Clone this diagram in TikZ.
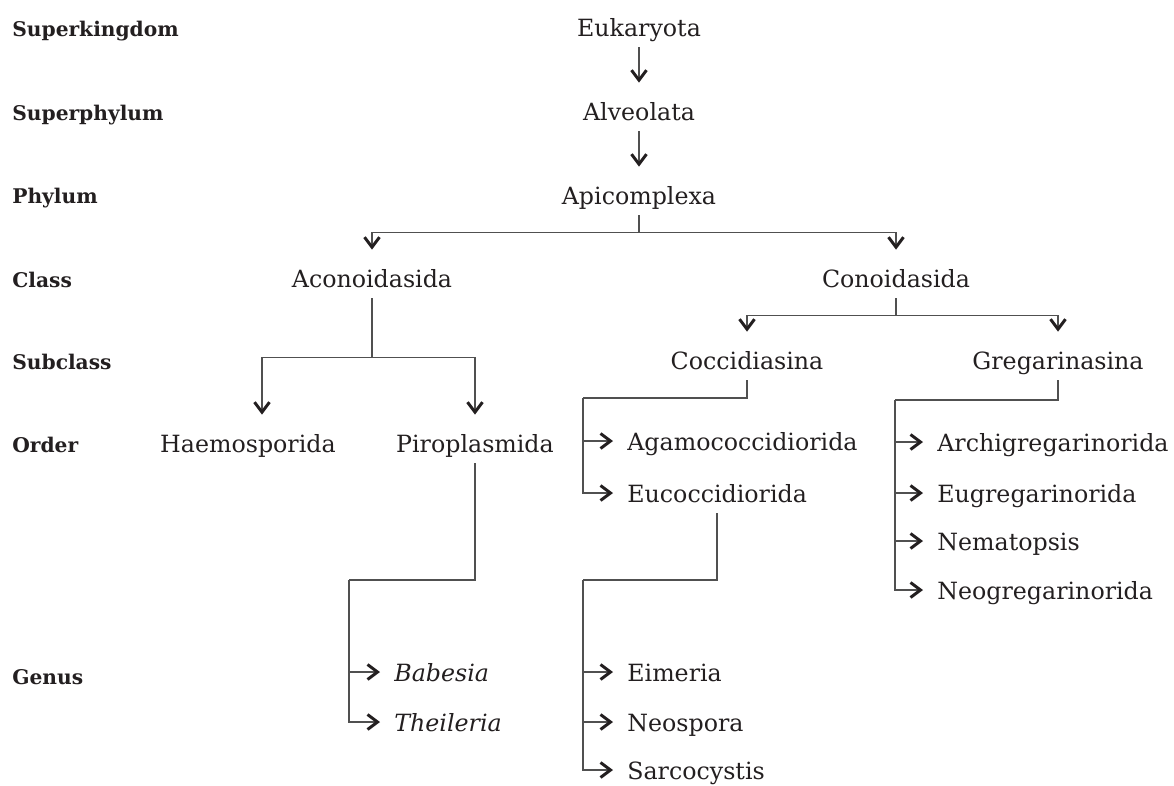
\documentclass[tikz,border=0pt]{standalone}
\usepackage{fontspec}
\setmainfont{DejaVu Serif}
\usetikzlibrary{arrows.meta}
\definecolor{ink}{HTML}{231F20}
\definecolor{wire}{HTML}{505050}

\begin{document}
\begin{tikzpicture}[x=0.02cm, y=-0.02cm,
    >={Straight Barb[length=2mm, width=3mm, line width=1.7pt, color=ink]},
    every node/.style={text=ink, font=\fontsize{13.5}{16}\selectfont},
    rank/.style={anchor=west, inner xsep=0pt, text height=0.36cm, text depth=0pt,
        font=\fontsize{11.5}{14}\selectfont\bfseries},
    taxon/.style={inner xsep=0.28cm, inner ysep=0.22cm, text height=0.36cm, text depth=0pt},
    leaf/.style={taxon, anchor=west},
    link/.style={draw=wire, line width=0.9pt},
    drop/.style={link, ->, shorten >=0.16cm}]

    \useasboundingbox (0,0) rectangle (1174,785);

    % ranks
    \node[rank] (rsk) at (12,27)  {Superkingdom};
    \node[rank] (rsp) at (12,111) {Superphylum};
    \node[rank] (rph) at (12,194) {Phylum};
    \node[rank] (rcl) at (12,278) {Class};
    \node[rank] (rsc) at (12,360) {Subclass};
    \node[rank] (ror) at (12,443) {Order};
    \node[rank] (rge) at (12,675) {Genus};

    % upper levels
    \node[taxon] (euk) at (639,27)  {Eukaryota};
    \node[taxon] (alv) at (639,111) {Alveolata};
    \node[taxon] (apic) at (639,195) {Apicomplexa};
    \node[taxon] (acon) at (372,278) {Aconoidasida};
    \node[taxon] (conoid) at (896,278) {Conoidasida};
    \node[taxon] (hae) at (248,443) {Haemosporida};
    \node[taxon] (piro) at (475,443) {Piroplasmida};
    \node[taxon] (cocc) at (747,360) {Coccidiasina};
    \node[taxon] (greg) at (1058,360) {Gregarinasina};

    % orders
    \node[leaf] (agamo) at (613,441) {Agamococcidiorida};
    \node[leaf] (euco) at (613,493) {Eucoccidiorida};
    \node[leaf] (archi) at (923,442) {Archigregarinorida};
    \node[leaf] (eugreg) at (923,493) {Eugregarinorida};
    \node[leaf] (nemat) at (923,541) {Nematopsis};
    \node[leaf] (neogreg) at (923,590) {Neogregarinorida};

    % genera
    \node[leaf] (babe) at (380,672) {\itshape Babesia};
    \node[leaf] (theil) at (380,722) {\itshape Theileria};
    \node[leaf] (eim) at (613,672) {Eimeria};
    \node[leaf] (neosp) at (613,722) {Neospora};
    \node[leaf] (sarco) at (613,770) {Sarcocystis};

    % bus corners
    \coordinate (cbus) at (583,398);
    \coordinate (gbus) at (895,400);
    \coordinate (pbus) at (349,580);
    \coordinate (ebus) at (583,580);

    % top chain
    \draw[drop] (euk) -- (alv);
    \draw[drop] (alv) -- (apic);
    \draw[drop] (apic.south) -- ++(0,17) -| (acon.north);
    \draw[drop] (apic.south) -- ++(0,17) -| (conoid.north);

    % classes
    \draw[drop] (acon.south) -- ++(0,59) -| ([xshift=0.28cm]hae.north);
    \draw[drop] (acon.south) -- ++(0,59) -| (piro.north);
    \draw[drop] (conoid.south) -- ++(0,17) -| (cocc.north);
    \draw[drop] (conoid.south) -- ++(0,17) -| (greg.north);

    % subclasses
    \draw[link] (cocc.south) |- (cbus);
    \draw[link, ->] (cbus) |- (agamo.west);
    \draw[link, ->] (cbus) |- (euco.west);
    \draw[link] (greg.south) |- (gbus);
    \foreach \o in {archi, eugreg, nemat, neogreg}
        \draw[link, ->] (gbus) |- (\o.west);

    % orders to genera
    \draw[link] (piro.south) |- (pbus);
    \draw[link, ->] (pbus) |- (babe.west);
    \draw[link, ->] (pbus) |- (theil.west);
    \draw[link] (euco.south) |- (ebus);
    \foreach \g in {eim, neosp, sarco}
        \draw[link, ->] (ebus) |- (\g.west);
\end{tikzpicture}
\end{document}
